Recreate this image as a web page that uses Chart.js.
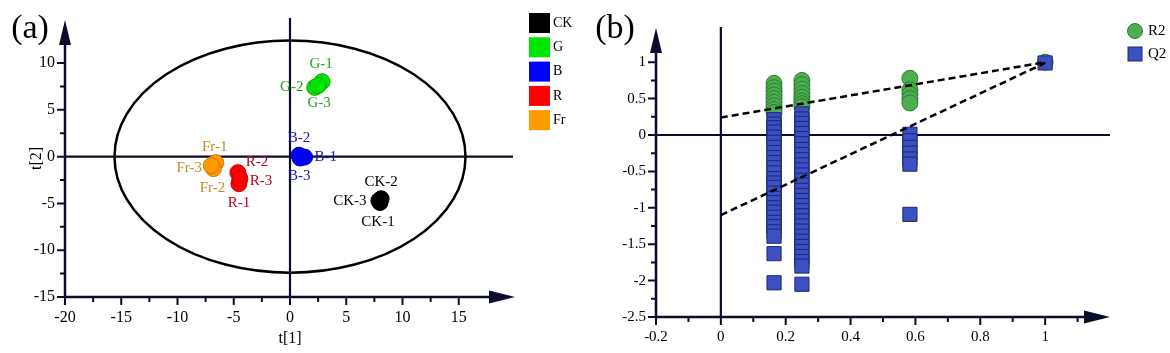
<!DOCTYPE html>
<html>
<head>
<meta charset="utf-8">
<script src="https://cdn.jsdelivr.net/npm/chart.js@4.4.1/dist/chart.umd.min.js"></script>
<style>
  body { margin: 0; background: #fff; }
  #wrap { position: relative; width: 1170px; height: 353px; }
  canvas { position: absolute; top: 0; }
</style>
</head>
<body>
<div id="wrap">
  <canvas id="pca" width="585" height="353" style="left:0"></canvas>
  <canvas id="perm" width="585" height="353" style="left:585px"></canvas>
</div>
<script>
// ---- (a) PCA score plot, replicates -1, -2, -3 of each group
const groups = ["CK", "G", "B", "R", "Fr"];
const ckX = [8.0, 8.1, 7.9];
const ckY = [-4.9, -4.5, -4.7];
const gX = [2.85, 2.2, 2.5];
const gY = [8.0, 7.4, 7.6];
const bX = [1.3, 0.8, 0.9];
const bY = [-0.05, 0.15, -0.15];
const rX = [-4.54, -4.63, -4.45];
const rY = [-2.89, -1.71, -2.35];
const frX = [-6.6, -6.8, -7.0];
const frY = [-0.64, -1.28, -0.96];
const ellipseRx = 15.6;   // Hotelling T2 ellipse half axes
const ellipseRy = 12.4;

// ---- (b) permutation test
const permX = [0.164, 0.25, 0.583];
const r2Col1 = [0.71, 0.65, 0.6, 0.55, 0.5, 0.45, 0.4, 0.35, 0.31];
const r2Col2 = [0.75, 0.69, 0.63, 0.57, 0.52, 0.47, 0.43, 0.39];
const r2Col3 = [0.78, 0.62, 0.56, 0.5, 0.44];
const q2Col1 = [0.21, 0.15, 0.1, 0.04, -0.03, -0.1, -0.17, -0.24, -0.31, -0.38, -0.45, -0.52, -0.6, -0.66,
  -0.72, -0.8, -0.87, -0.93, -1.0, -1.06, -1.13, -1.2, -1.26, -1.33, -1.39, -1.63, -2.03];
const q2Col2 = [0.29, 0.22, 0.16, 0.09, 0.02, -0.05, -0.12, -0.2, -0.27, -0.34, -0.41, -0.48, -0.55, -0.62,
  -0.69, -0.76, -0.83, -0.9, -0.97, -1.04, -1.11, -1.18, -1.25, -1.32, -1.39, -1.46, -1.53, -1.6, -1.67,
  -1.74, -1.8, -2.05];
const q2Col3 = [0.01, -0.08, -0.17, -0.25, -0.33, -0.4, -1.09];
const origX = 1.0;
const origR2 = 1.0;
const origQ2 = 0.99;
const r2Intercept = 0.24;
const q2Intercept = -1.1;

// ---- styles
const FONT = "'Liberation Serif', 'Times New Roman', serif";
const AXIS = "#0b0b2e";
const fills = ["#000000", "#00e600", "#0000ff", "#ff0000", "#ff9a00"];
const edges = ["#000000", "#00a800", "#0000b0", "#c00000", "#d07800"];
const textColors = ["#000000", "#1ea51e", "#1414b4", "#b5001e", "#c38c2a"];
// label offsets in pixels from each point (replicate 1, 2, 3)
const labelOffsets = [
  [[-2, 20], [0, -17], [-29, 0]],
  [[-1, -18], [-23, 0], [1, 18]],
  [[21, 0], [0, -17], [-1, 18]],
  [[0, 19], [19, -11], [21, 2]],
  [[-1, -16], [-1, 19], [-22, 2]]
];

const groupX = [ckX, gX, bX, rX, frX];
const groupY = [ckY, gY, bY, rY, frY];

function pts(xs, ys) { return xs.map((v, i) => ({ x: v, y: ys[i] })); }
function col(x, ys) { return ys.map(v => ({ x: x, y: v })); }
function near(v, step) { return Math.abs(v / step - Math.round(v / step)) < 1e-6; }

// axes with arrow heads and major/minor tick marks
function drawFrame(chart, xMax, yMax, xMajor, yMajor) {
  const { ctx, chartArea: a, scales: { x, y } } = chart;
  ctx.save();
  ctx.strokeStyle = AXIS;
  ctx.fillStyle = AXIS;
  ctx.lineWidth = 2.5;
  ctx.beginPath();
  ctx.moveTo(a.left, a.bottom); ctx.lineTo(a.left, a.top + 20);
  ctx.moveTo(a.left, a.bottom); ctx.lineTo(a.right - 20, a.bottom);
  ctx.stroke();
  ctx.beginPath();
  ctx.moveTo(a.left, a.top); ctx.lineTo(a.left - 6, a.top + 25); ctx.lineTo(a.left + 6, a.top + 25);
  ctx.closePath(); ctx.fill();
  ctx.beginPath();
  ctx.moveTo(a.right, a.bottom); ctx.lineTo(a.right - 26, a.bottom - 6.5); ctx.lineTo(a.right - 26, a.bottom + 6.5);
  ctx.closePath(); ctx.fill();
  ctx.lineWidth = 2;
  ctx.beginPath();
  x.ticks.forEach(t => {
    if (t.value > xMax) return;
    const p = x.getPixelForValue(t.value);
    ctx.moveTo(p, a.bottom); ctx.lineTo(p, a.bottom + (near(t.value, xMajor) ? 8 : 5));
  });
  y.ticks.forEach(t => {
    if (t.value > yMax) return;
    const p = y.getPixelForValue(t.value);
    ctx.moveTo(a.left, p); ctx.lineTo(a.left - (near(t.value, yMajor) ? 8 : 5), p);
  });
  ctx.stroke();
  ctx.restore();
}

function panelTag(ctx, text) {
  ctx.save();
  ctx.font = "34px " + FONT;
  ctx.fillStyle = "#000";
  ctx.textAlign = "center";
  ctx.textBaseline = "middle";
  ctx.fillText(text, 30, 29);
  ctx.restore();
}

// ---------------- (a)
const pcaPlugin = {
  id: "pcaDecor",
  beforeDatasetsDraw(chart) {
    const { ctx, chartArea: a, scales: { x, y } } = chart;
    const cx = x.getPixelForValue(0), cy = y.getPixelForValue(0);
    ctx.save();
    ctx.strokeStyle = "#000";
    ctx.lineWidth = 2.5;
    ctx.beginPath();
    ctx.ellipse(cx, cy, x.getPixelForValue(ellipseRx) - cx, cy - y.getPixelForValue(ellipseRy), 0, 0, Math.PI * 2);
    ctx.stroke();
    ctx.strokeStyle = AXIS;
    ctx.lineWidth = 2.2;
    ctx.beginPath();
    ctx.moveTo(cx, a.top - 2); ctx.lineTo(cx, a.bottom);
    ctx.moveTo(a.left, cy); ctx.lineTo(a.right - 2, cy);
    ctx.stroke();
    ctx.restore();
    drawFrame(chart, 16, 11, 5, 5);
  },
  afterDatasetsDraw(chart) {
    const { ctx, scales: { x, y } } = chart;
    ctx.save();
    ctx.font = "15px " + FONT;
    ctx.textAlign = "center";
    ctx.textBaseline = "middle";
    groups.forEach((g, gi) => {
      ctx.fillStyle = textColors[gi];
      groupX[gi].forEach((v, i) => {
        const px = x.getPixelForValue(v) + labelOffsets[gi][i][0];
        const py = y.getPixelForValue(groupY[gi][i]) + labelOffsets[gi][i][1];
        ctx.fillText(g + "-" + (i + 1), px, py);
      });
    });
    ctx.restore();
  },
  afterDraw(chart) {
    const ctx = chart.ctx;
    panelTag(ctx, "(a)");
    ctx.save();
    ctx.font = "14px " + FONT;
    ctx.textBaseline = "middle";
    groups.forEach((g, gi) => {
      const top = 13 + gi * 24.3;
      ctx.fillStyle = fills[gi];
      ctx.fillRect(529, top, 21, 20);
      ctx.fillStyle = "#000";
      ctx.fillText(g, 553, top + 10);
    });
    ctx.restore();
  }
};

new Chart(document.getElementById("pca"), {
  type: "scatter",
  data: {
    datasets: groups.map((g, gi) => ({
      label: g,
      data: pts(groupX[gi], groupY[gi]),
      backgroundColor: fills[gi],
      borderColor: edges[gi],
      borderWidth: 1,
      pointRadius: 8
    }))
  },
  options: {
    responsive: false,
    animation: false,
    devicePixelRatio: 1,
    layout: { padding: { top: 20, right: 70, bottom: 0, left: 0 } },
    plugins: { legend: { display: false }, tooltip: { enabled: false } },
    scales: {
      x: {
        min: -20, max: 20,
        grid: { display: false, drawTicks: false },
        border: { display: false },
        ticks: {
          stepSize: 2.5, autoSkip: false, maxRotation: 0, padding: 11,
          color: "#000", font: { family: FONT, size: 16 },
          callback: v => (near(v, 5) && v <= 15) ? String(v) : ""
        },
        title: { display: true, text: "t[1]", color: "#000", font: { family: FONT, size: 16 }, padding: { bottom: 5 } },
        afterFit: s => { s.height = 56; }
      },
      y: {
        min: -15, max: 14.6,
        grid: { display: false, drawTicks: false },
        border: { display: false },
        ticks: {
          stepSize: 2.5, autoSkip: false, padding: 10,
          color: "#000", font: { family: FONT, size: 16 },
          callback: v => (near(v, 5) && v <= 10) ? String(v) : ""
        },
        title: { display: true, text: "t[2]", color: "#000", font: { family: FONT, size: 16 }, padding: { top: 27 } },
        afterFit: s => { s.width = 65; }
      }
    }
  },
  plugins: [pcaPlugin]
});

// ---------------- (b)
const R2_FILL = "#4cae4f", R2_EDGE = "#2c7d30";
const Q2_FILL = "#3c50c2", Q2_EDGE = "#1c2578";

const permPlugin = {
  id: "permDecor",
  beforeDatasetsDraw(chart) {
    const { ctx, chartArea: a, scales: { x, y } } = chart;
    const cx = x.getPixelForValue(0), cy = y.getPixelForValue(0);
    ctx.save();
    ctx.strokeStyle = AXIS;
    ctx.lineWidth = 2.2;
    ctx.beginPath();
    ctx.moveTo(cx, a.top - 1); ctx.lineTo(cx, a.bottom);
    ctx.moveTo(a.left, cy); ctx.lineTo(a.right, cy);
    ctx.stroke();
    ctx.restore();
    drawFrame(chart, 1.15, 1.1, 0.2, 0.5);
  },
  afterDraw(chart) {
    const ctx = chart.ctx;
    panelTag(ctx, "(b)");
    ctx.save();
    ctx.font = "15px " + FONT;
    ctx.textBaseline = "middle";
    ctx.fillStyle = R2_FILL; ctx.strokeStyle = R2_EDGE; ctx.lineWidth = 1;
    ctx.beginPath(); ctx.arc(550, 31, 7.5, 0, Math.PI * 2); ctx.fill(); ctx.stroke();
    ctx.fillStyle = Q2_FILL; ctx.strokeStyle = Q2_EDGE;
    ctx.fillRect(543, 47, 14, 14); ctx.strokeRect(543, 47, 14, 14);
    ctx.fillStyle = "#000";
    ctx.fillText("R2", 563, 31);
    ctx.fillText("Q2", 563, 54);
    ctx.restore();
  }
};

const r2Points = [].concat(col(permX[0], r2Col1), col(permX[1], r2Col2), col(permX[2], r2Col3), [{ x: origX, y: origR2 }]);
const q2Points = [].concat(col(permX[0], q2Col1), col(permX[1], q2Col2), col(permX[2], q2Col3), [{ x: origX, y: origQ2 }]);

new Chart(document.getElementById("perm"), {
  type: "scatter",
  data: {
    datasets: [
      {
        label: "R2", data: r2Points, order: 3,
        pointStyle: "circle", pointRadius: 8,
        backgroundColor: R2_FILL, borderColor: R2_EDGE, borderWidth: 1
      },
      {
        label: "Q2", data: q2Points, order: 2,
        pointStyle: "rect", pointRadius: 10,
        backgroundColor: Q2_FILL, borderColor: Q2_EDGE, borderWidth: 1
      },
      {
        label: "R2 fit", data: [{ x: 0, y: r2Intercept }, { x: origX, y: origR2 }], order: 1,
        showLine: true, pointRadius: 0, borderColor: "#000", borderWidth: 2.5, borderDash: [7, 4]
      },
      {
        label: "Q2 fit", data: [{ x: 0, y: q2Intercept }, { x: origX, y: origQ2 }], order: 1,
        showLine: true, pointRadius: 0, borderColor: "#000", borderWidth: 2.5, borderDash: [7, 4]
      }
    ]
  },
  options: {
    responsive: false,
    animation: false,
    devicePixelRatio: 1,
    layout: { padding: { top: 28, right: 60, bottom: 0, left: 0 } },
    plugins: { legend: { display: false }, tooltip: { enabled: false } },
    scales: {
      x: {
        min: -0.2, max: 1.2,
        grid: { display: false, drawTicks: false },
        border: { display: false },
        ticks: {
          stepSize: 0.1, autoSkip: false, maxRotation: 0, padding: 11,
          color: "#000", font: { family: FONT, size: 15 },
          callback: v => (near(v, 0.2) && v <= 1.01) ? String(+v.toFixed(1)) : ""
        },
        afterFit: s => { s.height = 36; }
      },
      y: {
        min: -2.5, max: 1.47,
        grid: { display: false, drawTicks: false },
        border: { display: false },
        ticks: {
          stepSize: 0.25, autoSkip: false, padding: 10,
          color: "#000", font: { family: FONT, size: 15 },
          callback: v => (near(v, 0.5) && v <= 1.01) ? String(+v.toFixed(1)) : ""
        },
        afterFit: s => { s.width = 71; }
      }
    }
  },
  plugins: [permPlugin]
});
</script>
</body>
</html>
